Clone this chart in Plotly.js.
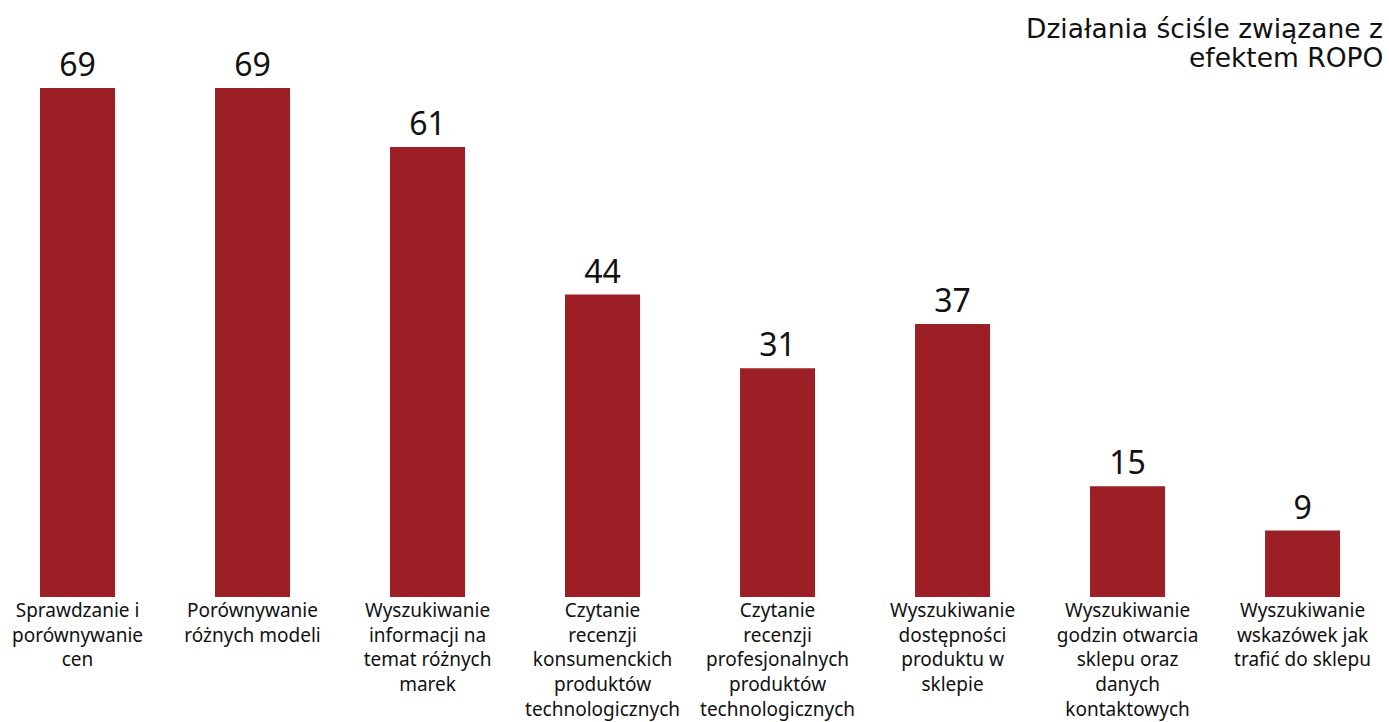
<!DOCTYPE html>
<html>
<head>
<meta charset="utf-8">
<script src="https://cdn.plot.ly/plotly-3.0.1.min.js"></script>
<style>html,body{margin:0;padding:0;background:#fff;}#chart{width:1389px;height:722px;}</style>
</head>
<body>
<div id="chart"></div>
<script>
const categories = [
  "Sprawdzanie i<br>porównywanie<br>cen",
  "Porównywanie<br>różnych modeli",
  "Wyszukiwanie<br>informacji na<br>temat różnych<br>marek",
  "Czytanie<br>recenzji<br>konsumenckich<br>produktów<br>technologicznych",
  "Czytanie<br>recenzji<br>profesjonalnych<br>produktów<br>technologicznych",
  "Wyszukiwanie<br>dostępności<br>produktu w<br>sklepie",
  "Wyszukiwanie<br>godzin otwarcia<br>sklepu oraz<br>danych<br>kontaktowych",
  "Wyszukiwanie<br>wskazówek jak<br>trafić do sklepu"
];
// bar heights as drawn in the picture
const barHeights = [69, 69, 61, 41, 31, 37, 15, 9];
// value labels as printed above the bars
const valueLabels = ["69", "69", "61", "44", "31", "37", "15", "9"];
const titleLines = ["Działania ściśle związane z", "efektem ROPO"];

const xIdx = categories.map((_, i) => i);

const trace = {
  type: 'bar',
  x: xIdx,
  y: barHeights,
  width: 0.4286,
  marker: {color: '#9B1F24'},
  text: valueLabels,
  textposition: 'outside',
  cliponaxis: false,
  textfont: {family: 'Noto Sans', size: 32, color: '#111'},
  hoverinfo: 'none'
};

const layout = {
  width: 1389,
  height: 722,
  margin: {l: 0, r: 0, t: 0, b: 125},
  paper_bgcolor: '#fff',
  plot_bgcolor: '#fff',
  showlegend: false,
  font: {family: 'Noto Sans', color: '#111'},
  xaxis: {
    range: [-0.443, 7.494],
    tickmode: 'array',
    tickvals: xIdx,
    ticktext: categories,
    showgrid: false,
    zeroline: false,
    showline: false,
    ticks: '',
    tickfont: {family: 'Noto Sans', size: 19, color: '#111'}
  },
  yaxis: {
    range: [0, 80.93],
    visible: false,
    showgrid: false,
    zeroline: false
  },
  annotations: titleLines.map((t, i) => ({
    xref: 'paper', yref: 'paper',
    x: 1, y: 1,
    xanchor: 'right', yanchor: 'top',
    xshift: -4, yshift: -11 - 28.5 * i,
    align: 'right',
    showarrow: false,
    text: t,
    font: {family: 'DejaVu Sans', size: 26.5, color: '#111'}
  }))
};

Plotly.newPlot('chart', [trace], layout, {displayModeBar: false, staticPlot: true});
</script>
</body>
</html>
